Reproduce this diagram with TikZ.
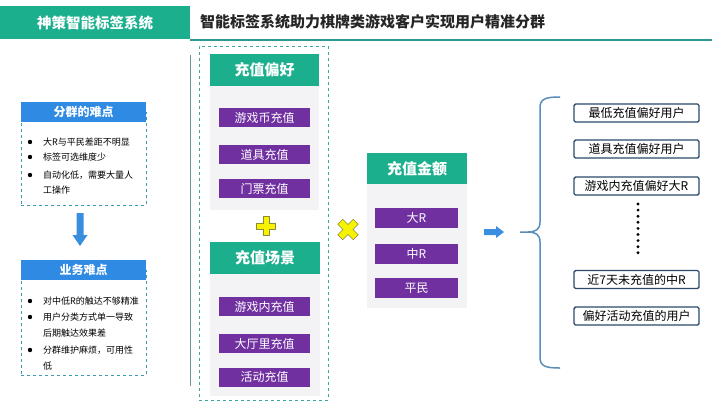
\documentclass[tikz,border=0pt]{standalone}
\usepackage{fontspec}
\setmainfont{Noto Sans CJK SC}
\definecolor{tgreen}{HTML}{1BAF8E}
\definecolor{tline}{HTML}{2E9A92}
\definecolor{vline}{HTML}{6A9696}
\definecolor{purp}{HTML}{7030A0}
\definecolor{bodyg}{HTML}{F3F3F6}
\definecolor{hblue}{HTML}{2F8AE3}
\definecolor{dashc}{HTML}{3A9DB0}
\definecolor{gdash}{HTML}{3AA99A}
\definecolor{ablue}{HTML}{3A8EDF}
\definecolor{brc}{HTML}{5A8DB8}
\definecolor{rbox}{HTML}{2C4A6A}
\definecolor{ylw}{HTML}{F6F200}
\definecolor{ylwd}{HTML}{8C8C3C}
\begin{document}
\begin{tikzpicture}[x=1pt,y=-1pt,
  box/.style={inner sep=0pt, outer sep=0pt, anchor=center},
  ghead/.style={box, fill=tgreen, text=white, font=\fontsize{15}{15}\selectfont\bfseries},
  gbody/.style={box, fill=bodyg},
  pbar/.style={box, fill=purp, text=white, font=\fontsize{12}{12}\selectfont, minimum width=91pt, minimum height=19pt},
  abar/.style={box, fill=purp, text=white, font=\fontsize{12}{12}\selectfont, minimum width=83pt, minimum height=20pt},
  rbx/.style={box, draw=rbox, line width=1.4pt, rounded corners=1.5pt, minimum width=125pt, minimum height=18pt, font=\fontsize{12}{12}\selectfont},
  bhead/.style={box, fill=hblue, text=white, font=\fontsize{12}{12}\selectfont\bfseries, minimum width=125pt, minimum height=20pt},
  bbody/.style={box, draw=dashc, dashed, line width=0.8pt, minimum width=125pt},
  itm/.style={inner sep=0pt, anchor=west, font=\fontsize{9}{9}\selectfont},
  bul/.style={fill=black},
  yshape/.style={fill=ylw, draw=ylwd, line width=0.6pt}
]
\useasboundingbox (0,0) rectangle (720,405);
\fill[white] (0,0) rectangle (720,405);

% header
\node[box, fill=tgreen, minimum width=190pt, minimum height=33pt, text=white,
      font=\fontsize{14.5}{14.5}\selectfont\bfseries] (tab) at (95,22.5) {神策智能标签系统};
\coordinate (hl1) at (190,39.5);
\coordinate (hl2) at (712,39.5);
\draw[tline, line width=2pt] (hl1) -- (hl2);
\node[inner sep=0pt, anchor=west, text=black!85, font=\fontsize{15}{15}\selectfont\bfseries] (title) at (200,22) {智能标签系统助力棋牌类游戏客户实现用户精准分群};

% left vertical line
\coordinate (vl1) at (190,55);
\coordinate (vl2) at (190,386);
\draw[vline, line width=0.9pt] (vl1) -- (vl2);

% left box 1
\node[bbody, minimum height=93pt] (b1body) at (83.5,158.5) {};
\node[bhead] (b1head) at (83.5,112) {分群的难点};
\fill[bul] (30,142) circle (2.2);
\node[itm] (b1i1) at (43,142) {大R与平民差距不明显};
\fill[bul] (30,157) circle (2.2);
\node[itm] (b1i2) at (43,157) {标签可选维度少};
\fill[bul] (30,175) circle (2.2);
\node[itm] (b1i3) at (43,175) {自动化低，需要大量人};
\node[itm] (b1i3b) at (43,190) {工操作};

% down arrow
\fill[ablue] (76.5,213) -- (83.5,213) -- (83.5,235) -- (87.5,235) -- (80,246) -- (72.5,235) -- (76.5,235) -- cycle;

% left box 2
\node[bbody, minimum height=105pt] (b2body) at (83.5,322.5) {};
\node[bhead] (b2head) at (83.5,270) {业务难点};
\fill[bul] (30,301) circle (2.2);
\node[itm] (b2i1) at (43,301) {对中低R的触达不够精准};
\fill[bul] (30,317) circle (2.2);
\node[itm] (b2i2) at (43,317) {用户分类方式单一导致};
\node[itm] (b2i2b) at (43,333) {后期触达效果差};
\fill[bul] (30,350) circle (2.2);
\node[itm] (b2i3) at (43,350) {分群维护麻烦，可用性};
\node[itm] (b2i3b) at (43,366) {低};

% dashed group
\node[box, draw=gdash, dashed, line width=0.8pt, minimum width=129pt, minimum height=354pt] (grp) at (263.5,223) {};

% panel 1
\node[gbody, minimum width=109pt, minimum height=124pt] (p1body) at (264.5,148) {};
\node[ghead, minimum width=109pt, minimum height=32pt] (p1head) at (264.5,70) {充值偏好};
\node[pbar] (p1a) at (264.5,117.5) {游戏币充值};
\node[pbar] (p1b) at (264.5,154.5) {道具充值};
\node[pbar] (p1c) at (264.5,188.5) {门票充值};

% plus
\draw[yshape, shift={(266,226)}] (-3.2,-9.5) -- (3.2,-9.5) -- (3.2,-3.2) -- (9.5,-3.2) -- (9.5,3.2) -- (3.2,3.2) -- (3.2,9.5) -- (-3.2,9.5) -- (-3.2,3.2) -- (-9.5,3.2) -- (-9.5,-3.2) -- (-3.2,-3.2) -- cycle;

% panel 2
\node[gbody, minimum width=110pt, minimum height=122pt] (p2body) at (265,335) {};
\node[ghead, minimum width=110pt, minimum height=32pt] (p2head) at (265,258) {充值场景};
\node[pbar] (p2a) at (264.5,306.5) {游戏内充值};
\node[pbar] (p2b) at (264.5,343.5) {大厅里充值};
\node[pbar] (p2c) at (264.5,377) {活动充值};

% cross
\draw[yshape, shift={(348,229.5)}, rotate=45] (-3.5,-11) -- (3.5,-11) -- (3.5,-3.5) -- (11,-3.5) -- (11,3.5) -- (3.5,3.5) -- (3.5,11) -- (-3.5,11) -- (-3.5,3.5) -- (-11,3.5) -- (-11,-3.5) -- (-3.5,-3.5) -- cycle;

% panel 3
\node[gbody, minimum width=100pt, minimum height=124pt] (p3body) at (417,246) {};
\node[ghead, minimum width=100pt, minimum height=31pt] (p3head) at (417,168.5) {充值金额};
\node[abar] (p3a) at (416.5,217.5) {大R};
\node[abar] (p3b) at (416.5,254) {中R};
\node[abar] (p3c) at (416.5,288) {平民};

% right arrow
\fill[ablue] (484,229) -- (496,229) -- (496,226) -- (504,232) -- (496,238) -- (496,235) -- (484,235) -- cycle;

% brace
\coordinate (brt) at (560,97);
\coordinate (brb) at (560,368);
\coordinate (brm) at (520,232);
\draw[brc, line width=1.5pt] (brt) .. controls (545,97) and (540,99) .. (540,108) -- (540,222) .. controls (540,229) and (536,232) .. (528,232) -- (brm);
\draw[brc, line width=1.5pt] (brb) .. controls (545,368) and (540,366) .. (540,357) -- (540,242) .. controls (540,235) and (536,232) .. (528,232);

% right boxes
\node[rbx] (r1) at (636.5,113) {最低充值偏好用户};
\node[rbx] (r2) at (636.5,149) {道具充值偏好用户};
\node[rbx] (r3) at (636.5,186) {游戏内充值偏好大R};
\foreach \i in {0,...,8} \fill (638,204+\i*6.1) circle (1.6);
\node[rbx] (r4) at (636.5,279.5) {近7天未充值的中R};
\node[rbx] (r5) at (636.5,316) {偏好活动充值的用户};
\end{tikzpicture}
\end{document}
